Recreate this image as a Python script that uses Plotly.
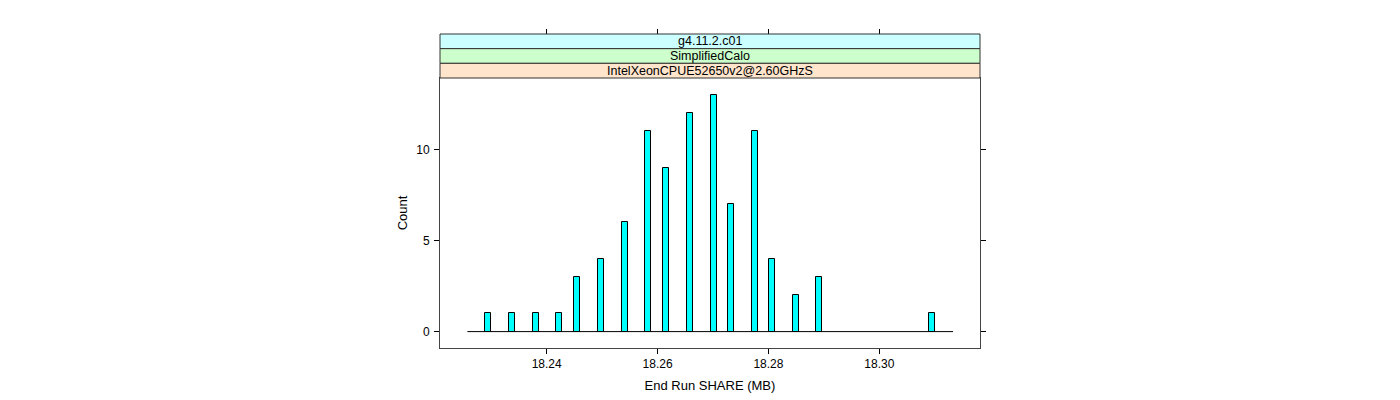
import plotly.graph_objects as go

# ---- data ----
share_mb = [18.2295, 18.2338, 18.2380, 18.2423, 18.2455, 18.2498, 18.2541,
            18.2583, 18.2616, 18.2658, 18.2701, 18.2733, 18.2775, 18.2807,
            18.2850, 18.2892, 18.3095]
counts = [1, 1, 1, 1, 3, 4, 6, 11, 9, 12, 13, 7, 11, 4, 2, 3, 1]

strip_labels = ["g4.11.2.c01", "SimplifiedCalo", "IntelXeonCPUE52650v2@2.60GHzS"]
strip_colors = ["#ccffff", "#ccffcc", "#ffe5cc"]

x_ticks = [18.24, 18.26, 18.28, 18.30]
x_ticklabels = ["18.24", "18.26", "18.28", "18.30"]
y_ticks = [0, 5, 10]

x_range = [18.22076, 18.31816]
y_range = [-0.9, 13.92]
pad = 0.0038
bar_width = 0.00108

FONT = "Liberation Sans, Arial, Helvetica, sans-serif"

W, H = 1400, 400
OFF = 8  # page body margin
m_l, m_r, m_t, m_b = 440 - OFF, 420 + OFF, 34 - OFF, 52 + OFF
plot_h = H - m_t - m_b
panel_top_px = 78 - OFF
dtop = (H - m_b - panel_top_px) / plot_h

fig = go.Figure()

# baseline
fig.add_trace(go.Scatter(
    x=[min(share_mb) - pad, max(share_mb) + pad], y=[0, 0],
    mode="lines", line=dict(color="black", width=1),
    hoverinfo="skip", showlegend=False))

fig.add_trace(go.Bar(
    x=share_mb, y=counts, width=bar_width,
    marker=dict(color="#00ffff", line=dict(color="black", width=1)),
    showlegend=False))

# invisible traces to bind top/right axes
fig.add_trace(go.Scatter(x=[share_mb[0]], y=[0], xaxis="x2", yaxis="y",
                         mode="markers", marker=dict(opacity=0),
                         hoverinfo="skip", showlegend=False))
fig.add_trace(go.Scatter(x=[share_mb[0]], y=[0], xaxis="x", yaxis="y2",
                         mode="markers", marker=dict(opacity=0),
                         hoverinfo="skip", showlegend=False))

axis_common = dict(showgrid=False, zeroline=False, ticks="outside", ticklen=5,
                   tickcolor="black", tickwidth=1,
                   tickfont=dict(family=FONT, size=12, color="black"))

fig.update_layout(
    width=W, height=H,
    margin=dict(l=m_l, r=m_r, t=m_t, b=m_b),
    paper_bgcolor="white", plot_bgcolor="white",
    bargap=0,
    xaxis=dict(range=x_range, tickvals=x_ticks, ticktext=x_ticklabels,
               showline=True, linecolor="#444", mirror=True, linewidth=1,
               title=dict(text="End Run SHARE (MB)", standoff=10,
                          font=dict(family=FONT, size=13, color="black")),
               **axis_common),
    xaxis2=dict(range=x_range, tickvals=x_ticks, showticklabels=False,
                overlaying="x", side="top", anchor="free", position=1,
                showline=False, **axis_common),
    yaxis=dict(range=y_range, tickvals=y_ticks, domain=[0, dtop],
               showline=True, linecolor="#444", mirror=True, linewidth=1,
               ticklabelstandoff=2,
               title=dict(text="Count", standoff=5,
                          font=dict(family=FONT, size=13, color="black")),
               **axis_common),
    yaxis2=dict(range=y_range, tickvals=y_ticks, showticklabels=False,
                overlaying="y", side="right", showline=False, **axis_common),
)

# strips
sh = (1 - dtop) / len(strip_labels)
for i, (lab, col) in enumerate(zip(strip_labels, strip_colors)):
    y1 = 1 - i * sh
    y0 = y1 - sh
    fig.add_shape(type="rect", xref="paper", yref="paper", x0=0, x1=1,
                  y0=y0, y1=y1, fillcolor=col, line=dict(color="#333", width=1),
                  layer="above")
    fig.add_annotation(xref="paper", yref="paper", x=0.5, y=(y0 + y1) / 2,
                       text=lab, showarrow=False, yanchor="middle",
                       font=dict(family=FONT, size=12.5, color="black"))

fig.write_html("out.html")
